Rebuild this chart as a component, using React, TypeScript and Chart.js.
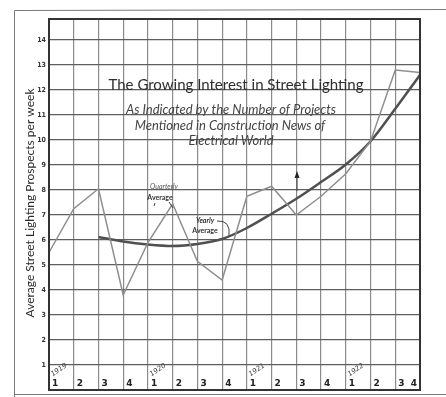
import React, { useEffect, useRef } from "react";
import { Chart, registerables } from "chart.js";

Chart.register(...registerables);

// ---- data ----
const quarterLabels = ["1", "2", "3", "4", "1", "2", "3", "4", "1", "2", "3", "4", "1", "2", "3", "4"];
const yearLabels = ["1919", "1920", "1921", "1922"];
const yTickValues = [1, 2, 3, 4, 5, 6, 7, 8, 9, 10, 11, 12, 13, 14];
const quarterlyAverage = [5.5, 7.25, 8.05, 3.8, 5.9, 7.45, 5.15, 4.4, 7.75, 8.15, 7.0, 7.75, 8.65, 9.95, 12.8, 12.7];
const yearlyAverage = [null, null, 6.12, 5.94, 5.82, 5.76, 5.84, 6.04, 6.48, 7.05, 7.65, 8.32, 9.02, 9.95, 11.25, 12.6];

const titleText = "The Growing Interest in Street Lighting";
const subtitleLines = [
  "As Indicated by the Number of Projects",
  "Mentioned in Construction News of",
  "Electrical World",
];
const yAxisTitle = "Average Street Lighting Prospects per week";

const decorPlugin = {
  id: "decor",
  beforeDraw(chart: any) {
    const ctx = chart.ctx;
    ctx.save();
    ctx.fillStyle = "#ffffff";
    ctx.fillRect(0, 0, chart.width, chart.height);
    // outer frame of the scanned page
    ctx.strokeStyle = "#7a7a7a";
    ctx.lineWidth = 1;
    ctx.beginPath();
    ctx.moveTo(14.5, 397);
    ctx.lineTo(14.5, 10.5);
    ctx.lineTo(446, 9.5);
    ctx.moveTo(14.5, 394.5);
    ctx.lineTo(446, 394.5);
    ctx.stroke();
    ctx.restore();
  },
  afterDatasetsDraw(chart: any) {
    const ctx = chart.ctx;
    const area = chart.chartArea;
    const xs = chart.scales.x;
    const ys = chart.scales.y;
    ctx.save();
    // plot border
    ctx.strokeStyle = "#333333";
    ctx.lineWidth = 2;
    ctx.strokeRect(area.left, area.top, area.right - area.left, area.bottom - area.top);

    // y tick labels
    ctx.fillStyle = "#333333";
    ctx.font = "bold 7px 'DejaVu Sans Condensed', 'DejaVu Sans'";
    ctx.textAlign = "right";
    ctx.textBaseline = "middle";
    yTickValues.forEach((v) => {
      ctx.fillText(String(v), area.left - 3, ys.getPixelForValue(v));
    });

    // x quarter labels (inside plot, at the bottom)
    ctx.font = "bold 9px 'DejaVu Sans'";
    ctx.fillStyle = "#222222";
    quarterLabels.forEach((q, i) => {
      const px = xs.getPixelForValue(i);
      if (i === quarterLabels.length - 1) {
        ctx.textAlign = "right";
        ctx.fillText(q, px - 3, area.bottom - 6);
      } else {
        ctx.textAlign = "left";
        ctx.fillText(q, px + 3, area.bottom - 6);
      }
    });

    // year labels (rotated)
    ctx.font = "italic 7px 'DejaVu Sans'";
    ctx.fillStyle = "#444444";
    yearLabels.forEach((yr, k) => {
      const px = xs.getPixelForValue(k * 4);
      ctx.save();
      ctx.translate(px + 10, area.bottom - 20);
      ctx.rotate(-0.6);
      ctx.textAlign = "center";
      ctx.fillText(yr, 0, 0);
      ctx.restore();
    });

    // y axis title
    ctx.save();
    ctx.translate(30, 203);
    ctx.rotate(-Math.PI / 2);
    ctx.font = "12px Lato";
    ctx.fillStyle = "#2a2a2a";
    ctx.textAlign = "center";
    ctx.textBaseline = "middle";
    ctx.fillText(yAxisTitle, 0, 0, 260);
    ctx.restore();

    // title block
    ctx.textAlign = "center";
    ctx.textBaseline = "middle";
    ctx.fillStyle = "#2e2e2e";
    ctx.font = "15px Lato";
    ctx.fillText(titleText, 236, 85, 268);
    ctx.font = "italic 13px Lato";
    ctx.fillStyle = "#444444";
    ctx.fillText(subtitleLines[0], 231, 110, 232);
    ctx.fillText(subtitleLines[1], 230, 126, 226);
    ctx.fillText(subtitleLines[2], 231, 141, 102);

    // series notes
    ctx.font = "italic 7px Lato";
    ctx.fillStyle = "#555555";
    ctx.fillText("Quarterly", 164, 187);
    ctx.font = "bold 7px Lato";
    ctx.fillStyle = "#333333";
    ctx.fillText("Average", 160, 198);
    ctx.font = "italic bold 7px Lato";
    ctx.fillText("Yearly", 205, 221);
    ctx.font = "bold 7px Lato";
    ctx.fillText("Average", 205, 231);

    ctx.strokeStyle = "#444444";
    ctx.lineWidth = 1;
    ctx.beginPath();
    ctx.moveTo(155, 203);
    ctx.lineTo(154, 206);
    ctx.moveTo(169, 202);
    ctx.lineTo(173, 208);
    ctx.moveTo(217, 221);
    ctx.quadraticCurveTo(231, 220, 229, 236);
    ctx.stroke();

    // small dart mark
    ctx.fillStyle = "#222222";
    ctx.beginPath();
    ctx.moveTo(297, 171);
    ctx.lineTo(294.5, 178);
    ctx.lineTo(299.5, 178);
    ctx.closePath();
    ctx.fill();
    ctx.beginPath();
    ctx.moveTo(297, 177);
    ctx.lineTo(297, 191);
    ctx.stroke();

    ctx.restore();
  },
};

export default function App() {
  const canvasRef = useRef<HTMLCanvasElement | null>(null);

  useEffect(() => {
    if (!canvasRef.current) return;
    const chart = new Chart(canvasRef.current, {
      type: "line",
      data: {
        labels: quarterLabels,
        datasets: [
          {
            label: "Quarterly Average",
            data: quarterlyAverage,
            borderColor: "#8e8e8e",
            borderWidth: 1.5,
            tension: 0,
            pointRadius: 0,
            fill: false,
          },
          {
            label: "Yearly Average",
            data: yearlyAverage as any,
            borderColor: "#505050",
            borderWidth: 2.5,
            tension: 0.4,
            cubicInterpolationMode: "monotone",
            pointRadius: 0,
            fill: false,
            spanGaps: false,
          },
        ],
      },
      options: {
        animation: false,
        responsive: true,
        maintainAspectRatio: false,
        layout: { padding: { left: 49, right: 26, top: 19, bottom: 7 } },
        plugins: {
          legend: { display: false },
          tooltip: { enabled: false },
          title: { display: false },
        },
        scales: {
          x: {
            type: "category",
            offset: false,
            ticks: { display: false },
            border: { display: false },
            grid: { color: "#8a8a8a", lineWidth: 1.2, drawTicks: false },
          },
          y: {
            min: 0,
            max: 14.84,
            ticks: { display: false, stepSize: 1 },
            border: { display: false },
            grid: { color: "#5e5e5e", lineWidth: 1.3, drawTicks: false },
            afterBuildTicks: (scale: any) => {
              scale.ticks = yTickValues.map((v) => ({ value: v }));
            },
          },
        },
      },
      plugins: [decorPlugin],
    });
    return () => chart.destroy();
  }, []);

  return (
    <div style={{ position: "fixed", left: 0, top: 0, width: 446, height: 397, background: "#fff" }}>
      <canvas ref={canvasRef} />
    </div>
  );
}
